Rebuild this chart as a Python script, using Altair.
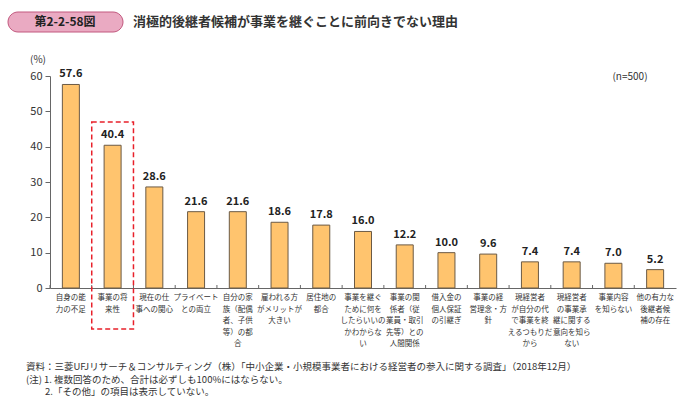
import altair as alt
import pandas as pd

FONT = "Noto Sans CJK JP"

# reasons (one per bar) and their shares in percent
categories = [
    "自身の能力の不足", "事業の将来性", "現在の仕事への関心", "プライベートとの両立",
    "自分の家族（配偶者、子供等）の都合", "雇われる方がメリットが大きい", "居住地の都合",
    "事業を継ぐために何をしたらいいのかわからない", "事業の関係者（従業員・取引先等）との人間関係",
    "借入金の個人保証の引継ぎ", "事業の経営理念・方針", "現経営者が自分の代で事業を終えるつもりだから",
    "現経営者の事業承継に関する意向を知らない", "事業内容を知らない", "他の有力な後継者候補の存在",
]
values = [57.6, 40.4, 28.6, 21.6, 21.6, 18.6, 17.8, 16.0, 12.2, 10.0, 9.6, 7.4, 7.4, 7.0, 5.2]
label_lines = [
    ["自身の能", "力の不足"],
    ["事業の将", "来性"],
    ["現在の仕", "事への関心"],
    ["プライベート", "との両立"],
    ["自分の家", "族（配偶", "者、子供", "等）の都", "合"],
    ["雇われる方", "がメリットが", "大きい"],
    ["居住地の", "都合"],
    ["事業を継ぐ", "ために何を", "したらいいの", "かわからな", "い"],
    ["事業の関", "係者（従", "業員・取引", "先等）との", "人間関係"],
    ["借入金の", "個人保証", "の引継ぎ"],
    ["事業の経", "営理念・方", "針"],
    ["現経営者", "が自分の代", "で事業を終", "えるつもりだ", "から"],
    ["現経営者", "の事業承", "継に関する", "意向を知ら", "ない"],
    ["事業内容", "を知らない"],
    ["他の有力な", "後継者候", "補の存在"],
]
highlighted = "事業の将来性"
y_ticks = [0, 10, 20, 30, 40, 50, 60]

fig_label = "第2-2-58図"
title_text = "消極的後継者候補が事業を継ぐことに前向きでない理由"
note_source = "資料：三菱UFJリサーチ＆コンサルティング（株）「中小企業・小規模事業者における経営者の参入に関する調査」（2018年12月）"
note_1 = "(注) 1. 複数回答のため、合計は必ずしも100%にはならない。"
note_2 = "2.「その他」の項目は表示していない。"

df = pd.DataFrame({"cat": categories, "value": values, "lines": label_lines})

W, H = 626, 212

x_enc = alt.X("cat:N", sort=categories,
              scale=alt.Scale(paddingInner=0, paddingOuter=0),
              axis=alt.Axis(labels=False, ticks=False, title=None,
                            domainColor="#666666", domainWidth=1))
y_scale = alt.Scale(domain=[0, 60], nice=False)
y_enc = alt.Y("value:Q", scale=y_scale,
              axis=alt.Axis(values=y_ticks, title=None, grid=False, tickSize=5,
                            tickColor="#666666", domainColor="#666666",
                            labelFont=FONT, labelFontSize=11, labelColor="#333333",
                            labelPadding=3, labelOverlap=False))

base = alt.Chart(df)

bars = base.mark_bar(size=17, color="#FFC46E", stroke="#6b5a45", strokeWidth=1).encode(
    x=x_enc, y=y_enc)

value_text = base.mark_text(font=FONT, fontSize=11, fontWeight="bold", color="#222222",
                            baseline="bottom", dy=-5).encode(
    x=x_enc,
    y=y_enc,
    text=alt.Text("value:Q", format=".1f"),
)

cat_text = base.mark_text(font=FONT, fontSize=7.5, color="#333333", baseline="top",
                          lineHeight=11.5).encode(
    x=x_enc,
    y=alt.value(H + 6),
    text="lines",
)

# small upward ticks at the band boundaries
ticks = base.mark_rule(color="#666666", strokeWidth=1).encode(
    x=alt.X("cat:N", sort=categories, bandPosition=0,
            scale=alt.Scale(paddingInner=0, paddingOuter=0),
            axis=alt.Axis(labels=False, ticks=False, title=None,
                          domainColor="#666666", domainWidth=1)),
    y=alt.value(H - 3),
    y2=alt.value(H),
)

box = base.transform_filter(alt.datum.cat == highlighted).mark_rect(
    fill=None, stroke="#E8202A", strokeWidth=1.5, strokeDash=[5, 3]).encode(
    x=x_enc,
    y=alt.value(46),
    y2=alt.value(253),
)


def label(text, x, y, size=10, weight="normal", color="#333333", align="center"):
    return alt.Chart(pd.DataFrame({"t": [text]})).mark_text(
        font=FONT, fontSize=size, fontWeight=weight, color=color, align=align).encode(
        x=alt.value(x), y=alt.value(y), text="t")


pill = alt.Chart(pd.DataFrame({"t": [fig_label]})).mark_rect(
    fill="#EAAAC2", stroke="#C2587E", strokeWidth=1, cornerRadius=10).encode(
    x=alt.value(-42), x2=alt.value(73), y=alt.value(-64), y2=alt.value(-44))

layers = [
    bars, ticks, value_text, cat_text, box, pill,
    label(fig_label, 15, -54, size=12, weight="bold", color="#222222"),
    label(title_text, 83, -54, size=13, weight="bold", align="left"),
    label("(%)", -12, -16),
    label("(n=500)", 580, 1),
    label(note_source, -24, 291, size=9.5, align="left"),
    label(note_1, -24, 303.5, size=9.5, align="left"),
    label(note_2, -5, 316, size=9.5, align="left"),
]

chart = alt.layer(*layers).properties(
    width=W, height=H,
    autosize=alt.AutoSizeParams(type="none"),
    padding={"left": 50, "top": 76, "right": 19, "bottom": 127},
    background="white",
).configure_view(stroke=None)

chart.save("out.html", embed_options={"renderer": "svg", "actions": False})
